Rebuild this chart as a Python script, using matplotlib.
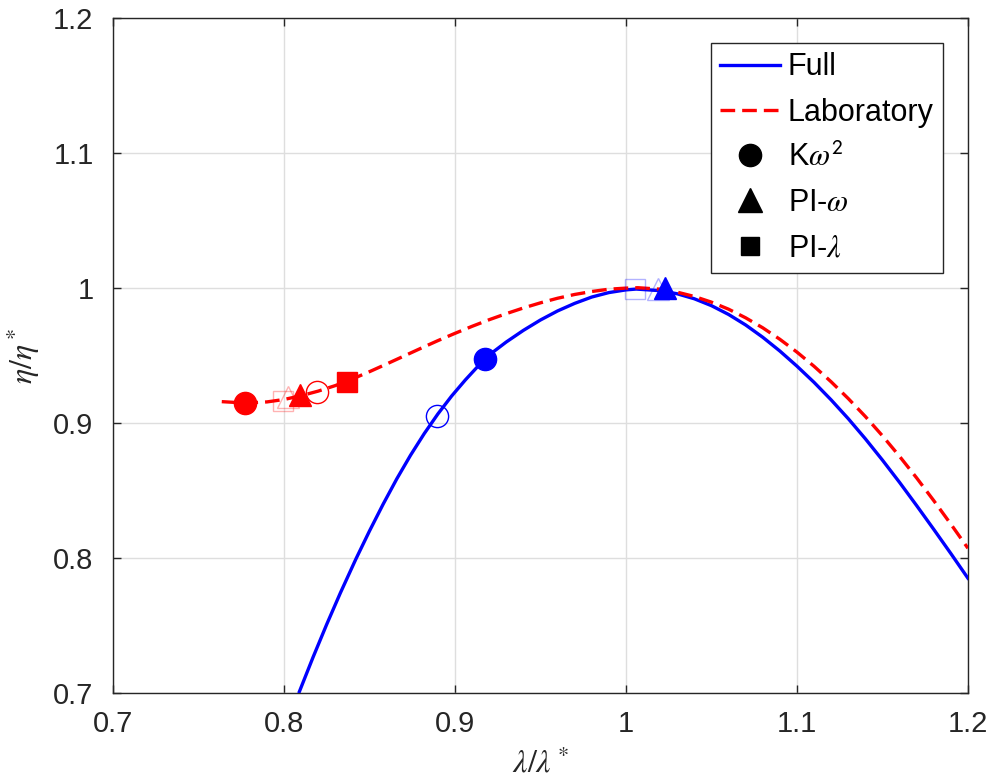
import numpy as np
import matplotlib
matplotlib.use('Agg')
import matplotlib.pyplot as plt
from matplotlib.lines import Line2D

plt.rcParams['font.family'] = ['Liberation Sans', 'DejaVu Sans']
plt.rcParams['mathtext.fontset'] = 'stix'

# efficiency curves (lambda/lambda*, eta/eta*)
full_x = [0.809, 0.817, 0.825, 0.833, 0.842, 0.850, 0.858, 0.866, 0.874, 0.882,
          0.890, 0.898, 0.906, 0.914, 0.922, 0.930, 0.940, 0.950, 0.960, 0.970,
          0.980, 0.990, 1.000, 1.006, 1.020, 1.030, 1.040, 1.050, 1.060, 1.070,
          1.080, 1.090, 1.100, 1.110, 1.120, 1.130, 1.140, 1.150, 1.160, 1.170,
          1.180, 1.190, 1.200]
full_y = [0.7010, 0.7265, 0.7509, 0.7742, 0.7991, 0.8200, 0.8399, 0.8587, 0.8761, 0.8921,
          0.9067, 0.9199, 0.9318, 0.9428, 0.9523, 0.9600, 0.9686, 0.9763, 0.9830, 0.9886,
          0.9933, 0.9966, 0.9986, 0.9992, 0.9980, 0.9957, 0.9920, 0.9869, 0.9804, 0.9726,
          0.9635, 0.9533, 0.9421, 0.9301, 0.9171, 0.9032, 0.8883, 0.8725, 0.8560, 0.8388,
          0.8212, 0.8033, 0.7850]

lab_x = [0.7636, 0.7772, 0.790, 0.800, 0.810, 0.820, 0.830, 0.840, 0.850, 0.860,
         0.870, 0.880, 0.890, 0.900, 0.910, 0.920, 0.930, 0.940, 0.950, 0.960,
         0.970, 0.980, 0.990, 1.000, 1.007, 1.020, 1.030, 1.040, 1.050, 1.060,
         1.070, 1.080, 1.090, 1.100, 1.110, 1.120, 1.130, 1.140, 1.150, 1.160,
         1.170, 1.180, 1.190, 1.200]
lab_y = [0.9158, 0.9148, 0.9156, 0.9174, 0.9202, 0.9236, 0.9277, 0.9326, 0.9380, 0.9437,
         0.9495, 0.9553, 0.9610, 0.9664, 0.9716, 0.9765, 0.9810, 0.9852, 0.9890, 0.9924,
         0.9952, 0.9974, 0.9991, 0.9999, 1.0002, 0.9991, 0.9969, 0.9937, 0.9895, 0.9843,
         0.9779, 0.9705, 0.9620, 0.9525, 0.9420, 0.9305, 0.9181, 0.9048, 0.8905, 0.8753,
         0.8593, 0.8425, 0.8251, 0.8072]

# operating points: (x, y) per controller marker
lab_filled = {'o': (0.7772, 0.9148), '^': (0.8094, 0.9207), 's': (0.8366, 0.9300)}
lab_open = {'o': (0.8191, 0.9228)}
lab_faint = {'s': (0.7996, 0.9165), '^': (0.8025, 0.9190)}
full_filled = {'o': (0.9175, 0.9474), '^': (1.0230, 1.0000)}
full_open = {'o': (0.8893, 0.9050)}
full_faint = {'s': (1.0050, 0.9993), '^': (1.0190, 0.9995)}

legend_labels = ['Full', 'Laboratory', r'K$\omega^{\mathsf{2}}$', r'PI-$\omega$', r'PI-$\lambda$']

blue = '#0000ff'
red = '#ff0000'
msize = {'o': 16, '^': 16.5, 's': 14}
lw = 2.4
dash = (4.4, 2.1)

fig = plt.figure(figsize=(10.02, 7.83), dpi=100)
ax = fig.add_axes([0.1128, 0.115, 0.8532, 0.862])

ax.plot(full_x, full_y, color=blue, lw=lw, zorder=3, solid_joinstyle='round')
ax.plot(lab_x, lab_y, color=red, lw=lw, dashes=dash, zorder=3)

for pts, col in [(lab_faint, red), (full_faint, blue)]:
    for m, (x, y) in pts.items():
        ax.plot(x, y, marker=m, ms=msize[m], mfc='none', mec=col, mew=1.0, alpha=0.3, zorder=4)
for pts, col in [(lab_open, red), (full_open, blue)]:
    for m, (x, y) in pts.items():
        ax.plot(x, y, marker=m, ms=msize[m], mfc='none', mec=col, mew=1.0, zorder=5)
for pts, col in [(lab_filled, red), (full_filled, blue)]:
    for m, (x, y) in pts.items():
        ax.plot(x, y, marker=m, ms=msize[m], mfc=col, mec=col, zorder=6)

ax.set_xlim(0.7, 1.2)
ax.set_ylim(0.7, 1.2)
ticks = [0.7, 0.8, 0.9, 1.0, 1.1, 1.2]
tick_text = ['0.7', '0.8', '0.9', '1', '1.1', '1.2']
ax.set_xticks(ticks)
ax.set_xticklabels(tick_text)
ax.set_yticks(ticks)
ax.set_yticklabels(tick_text)

axcol = '#262626'
ax.tick_params(direction='in', length=6, width=1, top=True, right=True,
               labelsize=21, colors=axcol)
ax.tick_params(axis='x', pad=12)
ax.tick_params(axis='y', pad=14)
for s in ax.spines.values():
    s.set_color(axcol)
    s.set_linewidth(1.0)
ax.grid(True, color='#dedede', lw=1.0)
ax.set_axisbelow(True)

ax.set_xlabel(r'$\lambda/\lambda^*$', fontsize=23, color=axcol, labelpad=8)
ax.set_ylabel(r'$\eta/\eta^*$', fontsize=23, color=axcol, labelpad=8)

handles = [Line2D([], [], color=blue, lw=lw),
           Line2D([], [], color=red, lw=lw, dashes=dash),
           Line2D([], [], color='k', ls='none', marker='o', ms=16),
           Line2D([], [], color='k', ls='none', marker='^', ms=17),
           Line2D([], [], color='k', ls='none', marker='s', ms=12.5)]
leg = ax.legend(handles, legend_labels, loc='upper right', fontsize=22,
                frameon=True, fancybox=False, framealpha=1, edgecolor='#262626',
                borderaxespad=0.82, handlelength=1.95, handletextpad=0.27,
                labelspacing=0.5, borderpad=0.3)
leg.get_frame().set_linewidth(1.0)

fig.savefig('out.png', dpi=100)
